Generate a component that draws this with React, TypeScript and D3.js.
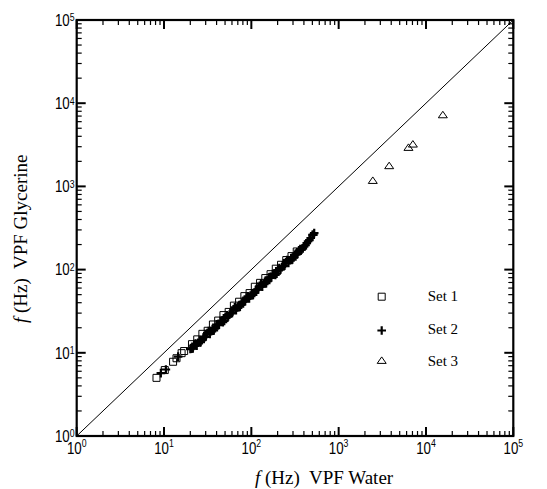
import * as d3 from 'd3'

const WIDTH = 547
const HEIGHT = 489
const MARGIN = { top: 20, right: 33.7, bottom: 53, left: 76.7 }

const DECADES = [0, 1, 2, 3, 4, 5]

// Set 1 (open squares)
const SET1_X = [8.2, 10.2, 12.7, 13.9, 15.9, 17.0, 20.9, 24.0, 27.5, 31.6, 36.3, 41.7, 47.9, 55.0, 63.1, 72.4, 83.2, 95.5, 109.6, 125.9, 144.5, 166.0, 190.5, 218.8, 251.2, 288.4, 331.1]
const SET1_Y = [5.0, 6.2, 7.8, 8.6, 9.9, 10.5, 12.7, 14.5, 16.9, 18.4, 21.9, 24.4, 28.4, 31.0, 36.9, 41.1, 48.0, 52.2, 62.2, 69.3, 79.1, 88.1, 102.6, 114.3, 130.3, 145.2, 165.2]

// Set 2 (plus)
const SET2_X = [
  9.2, 10.5, 14.5, 20.0, 21.4, 22.9, 24.5, 26.3, 28.2, 30.2, 32.4, 34.7, 37.2, 39.8, 42.7, 45.7, 49.0, 52.5, 56.2, 60.3, 64.6, 69.2, 74.1, 79.4, 85.1, 91.2, 97.7, 104.7, 112.2, 120.2, 128.8, 138.0, 147.9, 158.5, 169.8, 182.0, 195.0, 208.9, 223.9, 239.9, 257.0, 275.4, 295.1, 316.2, 338.8, 363.1, 389.0, 416.9, 446.7, 478.6, 501.2, 524.8,
  20.7, 22.1, 23.7, 25.4, 27.2, 29.2, 31.3, 33.5, 35.9, 38.5, 41.2, 44.2, 47.3, 50.7, 54.3, 58.2, 62.4, 66.8, 71.6, 76.7, 82.2, 88.1, 94.4, 101.2, 108.4, 116.1, 124.5, 133.4, 142.9, 153.1, 164.1, 175.8, 188.4, 201.8, 216.3, 231.7, 248.3, 266.1, 285.1, 305.5, 327.3, 350.8, 375.8, 402.7, 431.5, 462.4, 512.9,
]
const SET2_Y = [
  5.7, 6.3, 9.0, 11.1, 11.3, 12.9, 13.2, 13.4, 15.3, 15.7, 18.3, 18.2, 18.6, 21.8, 21.7, 24.3, 24.2, 28.3, 28.8, 30.1, 35.2, 35.1, 35.8, 40.9, 41.7, 47.8, 48.6, 49.5, 56.8, 57.8, 67.8, 67.5, 68.7, 80.5, 80.2, 89.5, 89.3, 104.5, 106.7, 111.2, 130.0, 129.7, 132.1, 151.0, 154.2, 176.2, 179.9, 196.3, 219.3, 239.9, 261.8, 274.2,
  11.2, 12.5, 12.2, 13.9, 14.2, 15.5, 17.3, 16.9, 19.3, 19.7, 21.5, 24.0, 23.4, 26.8, 27.3, 29.8, 33.3, 32.4, 37.1, 37.8, 41.3, 46.2, 45.0, 51.4, 52.5, 57.3, 64.0, 62.4, 71.3, 72.8, 79.4, 88.7, 86.5, 98.9, 100.7, 110.2, 123.0, 119.9, 137.1, 139.6, 152.8, 170.6, 173.8, 190.1, 207.5, 226.5, 261.8,
]

// Set 3 (open triangles)
const SET3_X = [2460, 3790, 6300, 7080, 15600]
const SET3_Y = [1170, 1760, 2920, 3200, 7200]

const LEGEND = ['Set 1', 'Set 2', 'Set 3']

const SQUARE = 'M-3.5,-3.5H3.5V3.5H-3.5Z'
const PLUS = 'M-4.3,0H4.3M0,-4.3V4.3'
const TRIANGLE = 'M0,-3.8L4.5,2.7L-4.5,2.7Z'

const Marker = ({ kind, x, y }: { kind: number; x: number; y: number }) => {
  if (kind === 0)
    return <path d={SQUARE} transform={`translate(${x},${y})`} fill="none" stroke="black" strokeWidth={1} />
  if (kind === 1)
    return <path d={PLUS} transform={`translate(${x},${y})`} fill="none" stroke="black" strokeWidth={2.2} />
  return <path d={TRIANGLE} transform={`translate(${x},${y})`} fill="none" stroke="black" strokeWidth={1} />
}

export default function App() {
  const left = MARGIN.left
  const right = WIDTH - MARGIN.right
  const top = MARGIN.top
  const bottom = HEIGHT - MARGIN.bottom

  const xScale = d3.scaleLog().domain([1, 1e5]).range([left, right])
  const yScale = d3.scaleLog().domain([1, 1e5]).range([bottom, top])

  const minors: number[] = []
  DECADES.slice(0, 5).forEach((d) => {
    for (let m = 2; m <= 9; m++) minors.push(m * Math.pow(10, d))
  })
  const majors = DECADES.map((d) => Math.pow(10, d))

  const MAJ = 9
  const MIN = 5
  const labelFont = '"Liberation Sans", Arial, sans-serif'
  const serif = '"Liberation Serif", "Times New Roman", serif'

  const sets = [
    { xs: SET1_X, ys: SET1_Y },
    { xs: SET2_X, ys: SET2_Y },
    { xs: SET3_X, ys: SET3_Y },
  ]

  const legendY = [296.7, 330.5, 360.7]
  const legendTextY = [301, 333.5, 365.5]

  return (
    <svg width={WIDTH} height={HEIGHT} style={{ position: 'absolute', left: 0, top: 0, background: 'white' }}>
      <rect width={WIDTH} height={HEIGHT} fill="white" />

      {/* diagonal y = x */}
      <line x1={xScale(1)} y1={yScale(1)} x2={xScale(1e5)} y2={yScale(1e5)} stroke="black" strokeWidth={1} />

      {/* data */}
      {sets.map((s, k) =>
        s.xs.map((v, i) => <Marker key={`${k}-${i}`} kind={k} x={xScale(v)} y={yScale(s.ys[i])} />)
      )}

      {/* ticks, all inward on four sides */}
      {minors.map((v) => (
        <g key={`mn${v}`} stroke="black" strokeWidth={1.2}>
          <line x1={xScale(v)} x2={xScale(v)} y1={bottom} y2={bottom - MIN} />
          <line x1={xScale(v)} x2={xScale(v)} y1={top} y2={top + MIN} />
          <line y1={yScale(v)} y2={yScale(v)} x1={left} x2={left + MIN} />
          <line y1={yScale(v)} y2={yScale(v)} x1={right} x2={right - MIN} />
        </g>
      ))}
      {majors.map((v) => (
        <g key={`mj${v}`} stroke="black" strokeWidth={2}>
          <line x1={xScale(v)} x2={xScale(v)} y1={bottom} y2={bottom - MAJ} />
          <line x1={xScale(v)} x2={xScale(v)} y1={top} y2={top + MAJ} />
          <line y1={yScale(v)} y2={yScale(v)} x1={left} x2={left + MAJ} />
          <line y1={yScale(v)} y2={yScale(v)} x1={right} x2={right - MAJ} />
        </g>
      ))}
      <rect x={left} y={top} width={right - left} height={bottom - top} fill="none" stroke="black" strokeWidth={2.2} />

      {/* tick labels */}
      {DECADES.map((d) => (
        <g key={`xl${d}`} transform={`translate(${xScale(Math.pow(10, d))},454) scale(0.83,1)`}>
          <text textAnchor="middle" fontFamily={labelFont} fontSize={16} fill="black">
            10<tspan fontSize={10.5} dy={-7.5}>{d}</tspan>
          </text>
        </g>
      ))}
      {DECADES.map((d) => (
        <g key={`yl${d}`} transform={`translate(74.5,${yScale(Math.pow(10, d)) + 5.8}) scale(0.83,1)`}>
          <text textAnchor="end" fontFamily={labelFont} fontSize={16} fill="black">
            10<tspan fontSize={10.5} dy={-4.5}>{d}</tspan>
          </text>
        </g>
      ))}

      {/* axis titles */}
      <text x={255} y={483.5} fontFamily={serif} fontSize={19} fill="black" style={{ whiteSpace: 'pre' }}>
        <tspan fontStyle="italic">f</tspan>
        {' (Hz)  VPF Water'}
      </text>
      <text
        transform="translate(26.5,323) rotate(-90)"
        fontFamily={serif}
        fontSize={19}
        fill="black"
        style={{ whiteSpace: 'pre' }}
      >
        <tspan fontStyle="italic">f</tspan>
        {' (Hz)  VPF Glycerine'}
      </text>

      {/* legend */}
      {LEGEND.map((name, k) => (
        <g key={name}>
          <Marker kind={k} x={381.7} y={legendY[k]} />
          <text x={427.7} y={legendTextY[k]} fontFamily={serif} fontSize={15} fill="black">
            {name}
          </text>
        </g>
      ))}
    </svg>
  )
}
